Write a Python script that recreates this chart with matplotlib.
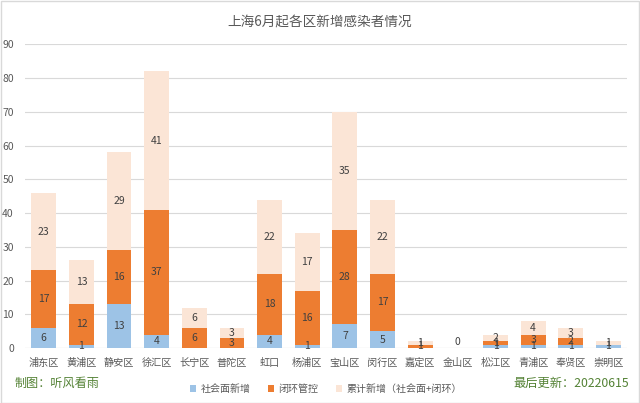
import numpy as np
import matplotlib.pyplot as plt
from matplotlib.patches import Rectangle

plt.rcParams['font.family'] = ['Noto Sans CJK SC', 'DejaVu Sans']

districts = ['浦东区', '黄浦区', '静安区', '徐汇区', '长宁区', '普陀区', '虹口', '杨浦区',
             '宝山区', '闵行区', '嘉定区', '金山区', '松江区', '青浦区', '奉贤区', '崇明区']
social = [6, 1, 13, 4, 0, 0, 4, 1, 7, 5, 0, 0, 1, 1, 1, 1]
closed = [17, 12, 16, 37, 6, 3, 18, 16, 28, 17, 1, 0, 1, 3, 2, 0]
total = [23, 13, 29, 41, 6, 3, 22, 17, 35, 22, 1, 0, 2, 4, 3, 1]

c_social = '#9DC3E6'
c_closed = '#ED7D31'
c_total = '#FBE5D6'
grey = '#595959'

fig = plt.figure(figsize=(6.4, 4.03), dpi=100)
ax = fig.add_axes([0.039, 0.1365, 0.941, 0.7531])

x = np.arange(len(districts))
s = np.array(social)
c = np.array(closed)
t = np.array(total)
w = 0.66
ax.bar(x, s, w, color=c_social, label='社会面新增', zorder=2)
ax.bar(x, c, w, bottom=s, color=c_closed, label='闭环管控', zorder=2)
ax.bar(x, t, w, bottom=s + c, color=c_total, label='累计新增（社会面+闭环）', zorder=2)

# data labels, centred in each segment
for i in range(len(districts)):
    if s[i] > 0:
        ax.text(x[i], s[i] / 2, str(s[i]), ha='center', va='center', fontsize=7.5, color='#404040', zorder=3)
    if c[i] > 0:
        ax.text(x[i], s[i] + c[i] / 2, str(c[i]), ha='center', va='center', fontsize=7.5, color='#404040', zorder=3)
    if t[i] > 0:
        ax.text(x[i], s[i] + c[i] + t[i] / 2, str(t[i]), ha='center', va='center', fontsize=7.5, color='#404040', zorder=3)
    else:
        ax.text(x[i], 0.3, '0', ha='center', va='bottom', fontsize=7.5, color='#404040', zorder=3)

ax.set_xlim(-0.5, len(districts) - 0.5)
ax.set_ylim(0, 90)
ax.set_yticks(range(0, 91, 10))
ax.set_xticks(x)
ax.set_xticklabels(districts)
ax.tick_params(axis='both', length=0, colors=grey)
ax.tick_params(axis='y', pad=8, labelsize=7.5)
ax.tick_params(axis='x', pad=7, labelsize=7.3)
ax.grid(axis='y', color='#D9D9D9', linewidth=0.8, zorder=0)
for sp in ax.spines.values():
    sp.set_visible(False)
ax.axhline(0, color='#D9D9D9', linewidth=0.8, zorder=1)

fig.text(0.5, 0.943, '上海6月起各区新增感染者情况', ha='center', va='center', fontsize=9.8, color=grey)

ax.legend(loc='center', bbox_to_anchor=(0.50, -0.135), ncol=3, frameon=False, fontsize=7.2,
          handlelength=0.6, handleheight=0.6, handletextpad=0.4, columnspacing=1.8, labelcolor=grey)

fig.text(0.023, 0.048, '制图：听风看雨', ha='left', va='center', fontsize=8.7, color='#548235')
fig.text(0.983, 0.048, '最后更新：20220615', ha='right', va='center', fontsize=8.8, color='#548235')

fig.patches.append(Rectangle((0.001, 0.001), 0.997, 0.997, transform=fig.transFigure,
                             fill=False, edgecolor='#D9D9D9', linewidth=1))

fig.savefig('out.png', dpi=100)
